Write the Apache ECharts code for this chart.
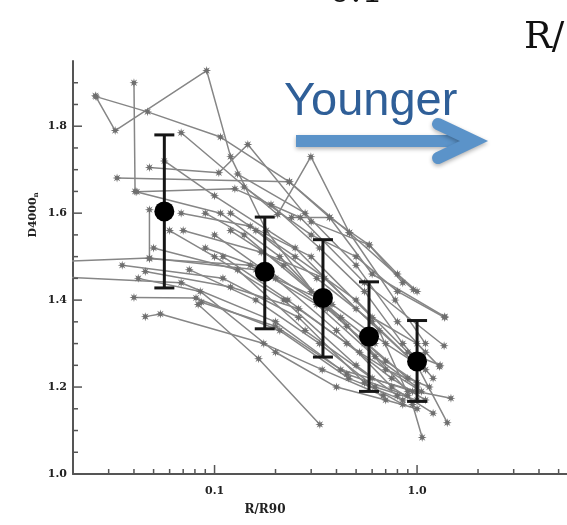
<!DOCTYPE html>
<html><head><meta charset="utf-8">
<script src="https://cdn.jsdelivr.net/npm/echarts@6/dist/echarts.min.js"></script>
<style>html,body{margin:0;padding:0;background:#fff}#c{width:567px;height:525px}</style>
</head><body><div id="c"></div>
<script>
// Individual galaxy profiles: [R/R90, D4000n]
const galaxyTracks = [
 [[0.0258,1.870],[0.0323,1.790],[0.0914,1.928],[0.120,1.730],[0.180,1.560],[0.33,1.40],[0.62,1.30]],
 [[0.0400,1.900],[0.0405,1.650],[0.107,1.600],[0.210,1.500],[0.45,1.34],[0.90,1.22]],
 [[0.0260,1.868],[0.0467,1.833],[0.107,1.775],[0.234,1.672],[0.463,1.555],[0.96,1.424]],
 [[0.0684,1.785],[0.205,1.597],[0.299,1.730],[0.463,1.555],[0.78,1.40],[1.10,1.30]],
 [[0.0330,1.681],[0.234,1.672],[0.37,1.590],[0.60,1.46],[1.37,1.362]],
 [[0.0477,1.705],[0.105,1.693],[0.146,1.758],[0.30,1.58],[0.58,1.527],[0.85,1.44]],
 [[0.0413,1.649],[0.126,1.656],[0.265,1.590],[0.55,1.44],[1.36,1.295]],
 [[0.0477,1.608],[0.0477,1.495],[0.150,1.480],[0.32,1.39],[0.62,1.27],[1.0,1.20]],
 [[0.015,1.488],[0.0477,1.497],[0.16,1.47],[0.38,1.39],[0.70,1.30],[1.10,1.24]],
 [[0.015,1.455],[0.0684,1.440],[0.20,1.35],[0.45,1.23],[0.90,1.18]],
 [[0.0455,1.466],[0.12,1.43],[0.26,1.38],[0.52,1.28],[1.05,1.19]],
 [[0.0400,1.406],[0.0810,1.405],[0.21,1.33],[0.46,1.22],[0.85,1.17]],
 [[0.0455,1.362],[0.0540,1.368],[0.175,1.30],[0.34,1.24],[0.68,1.18]],
 [[0.083,1.390],[0.165,1.265],[0.331,1.114]],
 [[0.0860,1.395],[0.20,1.34],[0.42,1.24],[1.00,1.19],[1.47,1.174]],
 [[0.0565,1.720],[0.10,1.64],[0.25,1.52],[0.50,1.38],[1.00,1.25],[1.41,1.118]],
 [[0.0684,1.600],[0.15,1.57],[0.30,1.50],[0.60,1.36],[1.00,1.30],[1.29,1.247]],
 [[0.0700,1.560],[0.17,1.51],[0.35,1.45],[0.65,1.33],[0.95,1.16],[1.06,1.084]],
 [[0.0900,1.520],[0.18,1.47],[0.36,1.38],[0.70,1.26],[1.00,1.21]],
 [[0.1000,1.550],[0.20,1.45],[0.40,1.33],[0.75,1.20],[1.20,1.14]],
 [[0.1200,1.600],[0.25,1.50],[0.50,1.40],[0.90,1.28],[1.30,1.25]],
 [[0.1400,1.660],[0.30,1.55],[0.50,1.50],[0.80,1.42],[1.37,1.36]],
 [[0.1300,1.690],[0.28,1.60],[0.50,1.48],[0.80,1.35],[1.10,1.28]],
 [[0.0900,1.600],[0.14,1.55],[0.30,1.42],[0.55,1.30],[0.90,1.19]],
 [[0.0600,1.560],[0.10,1.50],[0.22,1.40],[0.50,1.25],[0.80,1.18]],
 [[0.1100,1.500],[0.23,1.40],[0.45,1.30],[0.75,1.22],[1.10,1.17]],
 [[0.1600,1.560],[0.32,1.45],[0.60,1.35],[1.00,1.25]],
 [[0.2400,1.590],[0.37,1.590],[0.58,1.527],[0.80,1.46],[1.00,1.42]],
 [[0.0420,1.450],[0.085,1.42],[0.20,1.28],[0.40,1.20],[0.70,1.17],[1.00,1.15]],
 [[0.0350,1.480],[0.11,1.45],[0.26,1.36],[0.55,1.21],[0.85,1.16]],
 [[0.0500,1.520],[0.13,1.47],[0.28,1.33],[0.60,1.22],[0.95,1.19]],
 [[0.0750,1.470],[0.16,1.40],[0.33,1.30],[0.62,1.20],[1.00,1.17]],
 [[0.1200,1.560],[0.22,1.48],[0.42,1.36],[0.70,1.24],[1.15,1.20]],
 [[0.1900,1.620],[0.33,1.52],[0.55,1.42],[0.85,1.30],[1.20,1.22]]
];
// Mean profile with error bars
const meanR = [0.0565, 0.177, 0.343, 0.579, 1.0];
const meanD = [1.604, 1.465, 1.405, 1.316, 1.259];
const errHigh = [1.780, 1.591, 1.539, 1.442, 1.353];
const errLow = [1.428, 1.334, 1.269, 1.190, 1.167];
// Axis ticks
const yTickValues = [1.0, 1.2, 1.4, 1.6, 1.8];
const yTickLabels = ['1.0', '1.2', '1.4', '1.6', '1.8'];
const yMinorValues = [1.05,1.1,1.15,1.25,1.3,1.35,1.45,1.5,1.55,1.65,1.7,1.75,1.85,1.9];
const xTickValues = [0.1, 1.0];
const xTickLabels = ['0.1', '1.0'];
const xMinorValues = [0.03,0.04,0.05,0.06,0.07,0.08,0.09,0.2,0.3,0.4,0.5,0.6,0.7,0.8,0.9,2,3,4,5];
const X_MIN = 0.02, X_MAX = 5.5, Y_MIN = 1.0, Y_MAX = 1.95;

const starPath = 'path://M0,-10 L1.6,-3.9 L7.07,-7.07 L3.9,-1.6 L10,0 L3.9,1.6 L7.07,7.07 L1.6,3.9 L0,10 L-1.6,3.9 L-7.07,7.07 L-3.9,1.6 L-10,0 L-3.9,-1.6 L-7.07,-7.07 L-1.6,-3.9 Z';
const axisColor = '#555';
const labelFont = {fontFamily: 'DejaVu Serif', fontWeight: 'bold', fontSize: 11, color: '#222'};

const series = [];
galaxyTracks.forEach(function (g) {
  series.push({
    type: 'line', data: g, symbol: starPath, symbolSize: 9, showSymbol: true,
    lineStyle: {color: '#868686', width: 1.5},
    itemStyle: {color: '#6e6e6e'},
    z: 2, silent: true, animation: false, clip: true
  });
});
// error bars
series.push({
  type: 'custom', z: 5, silent: true, animation: false,
  data: meanR.map(function (r, i) { return [r, errLow[i], errHigh[i]]; }),
  renderItem: function (params, api) {
    const lo = api.coord([api.value(0), api.value(1)]);
    const hi = api.coord([api.value(0), api.value(2)]);
    const hw = 10;
    const st = {stroke: '#151515', lineWidth: 3};
    return {type: 'group', children: [
      {type: 'line', shape: {x1: lo[0], y1: lo[1], x2: hi[0], y2: hi[1]}, style: st},
      {type: 'line', shape: {x1: lo[0]-hw, y1: lo[1], x2: lo[0]+hw, y2: lo[1]}, style: st},
      {type: 'line', shape: {x1: hi[0]-hw, y1: hi[1], x2: hi[0]+hw, y2: hi[1]}, style: st}
    ]};
  }
});
series.push({
  type: 'scatter', z: 6, silent: true, animation: false,
  data: meanR.map(function (r, i) { return [r, meanD[i]]; }),
  symbol: 'circle', symbolSize: 20, itemStyle: {color: '#000', opacity: 1}
});
// x ticks (major + minor)
const xTickData = xTickValues.map(function (v) { return [v, Y_MIN, 1]; })
  .concat(xMinorValues.map(function (v) { return [v, Y_MIN, 0]; }));
series.push({
  type: 'custom', z: 3, silent: true, animation: false, clip: false,
  data: xTickData,
  renderItem: function (params, api) {
    const p = api.coord([api.value(0), api.value(1)]);
    const len = api.value(2) ? 9 : 5;
    return {type: 'line', shape: {x1: p[0], y1: p[1], x2: p[0], y2: p[1]-len}, style: {stroke: axisColor, lineWidth: 1.5}};
  }
});
const yTickData = yTickValues.map(function (v) { return [X_MIN, v, 1]; })
  .concat(yMinorValues.map(function (v) { return [X_MIN, v, 0]; }));
series.push({
  type: 'custom', z: 3, silent: true, animation: false, clip: false,
  data: yTickData,
  renderItem: function (params, api) {
    const p = api.coord([api.value(0), api.value(1)]);
    const len = api.value(2) ? 9 : 5;
    return {type: 'line', shape: {x1: p[0], y1: p[1], x2: p[0]+len, y2: p[1]}, style: {stroke: axisColor, lineWidth: 1.5}};
  }
});

const chart = echarts.init(document.getElementById('c'), null, {renderer: 'canvas'});
chart.setOption({
  backgroundColor: '#fff',
  animation: false,
  grid: {left: 73, top: 61, width: 502, height: 413, containLabel: false},
  xAxis: {
    type: 'log', logBase: 10, min: X_MIN, max: X_MAX,
    axisLine: {show: true, lineStyle: {color: axisColor, width: 2}},
    axisTick: {show: false}, splitLine: {show: false}, minorTick: {show: false},
    axisLabel: Object.assign({margin: 12, showMinLabel: false, showMaxLabel: false,
      formatter: function (v) {
        for (let i = 0; i < xTickValues.length; i++) if (Math.abs(v - xTickValues[i]) < 1e-9) return xTickLabels[i];
        return '';
      }}, labelFont)
  },
  yAxis: {
    type: 'value', min: Y_MIN, max: Y_MAX, interval: 0.2,
    axisLine: {show: true, lineStyle: {color: axisColor, width: 2}},
    axisTick: {show: false}, splitLine: {show: false},
    axisLabel: Object.assign({margin: 6,
      formatter: function (v) {
        for (let i = 0; i < yTickValues.length; i++) if (Math.abs(v - yTickValues[i]) < 1e-9) return yTickLabels[i];
        return '';
      }}, labelFont)
  },
  graphic: [
    {type: 'text', x: 33, y: 215, rotation: Math.PI / 2,
      style: {text: 'D4000{s|n}', align: 'center', verticalAlign: 'middle',
        fontFamily: 'DejaVu Serif', fontWeight: 'bold', fontSize: 11, fill: '#222',
        rich: {s: {fontFamily: 'DejaVu Serif', fontWeight: 'bold', fontSize: 7, fill: '#222', padding: [7, 0, 0, 0]}}}},
    {type: 'text', x: 265, y: 510, style: {text: 'R/R90', align: 'center', verticalAlign: 'middle', fontFamily: 'DejaVu Serif', fontWeight: 'bold', fontSize: 12, fill: '#222'}},
    {type: 'text', left: 284, top: 79, style: {text: 'Younger', fontFamily: 'Liberation Sans', fontSize: 47, fill: '#2f5f98'}},
    {type: 'line', shape: {x1: 296, y1: 141, x2: 466, y2: 141},
      style: {stroke: '#5b93c9', lineWidth: 12, lineCap: 'butt', shadowBlur: 4, shadowOffsetY: 2, shadowColor: 'rgba(0,0,0,0.3)'}},
    {type: 'polyline', shape: {points: [[438, 124], [474, 141], [438, 158]]},
      style: {stroke: '#5b93c9', fill: null, lineWidth: 12, lineCap: 'round', lineJoin: 'miter', shadowBlur: 4, shadowOffsetY: 2, shadowColor: 'rgba(0,0,0,0.3)'}},
    {type: 'text', left: 524, top: 20, style: {text: 'R/', fontFamily: 'DejaVu Serif', fontSize: 37, fill: '#111'}},
    {type: 'text', x: 356, y: 10, style: {text: '0.1', align: 'center', verticalAlign: 'bottom', fontFamily: 'DejaVu Serif', fontSize: 34, fill: '#111'}}
  ],
  series: series
});
</script></body></html>
